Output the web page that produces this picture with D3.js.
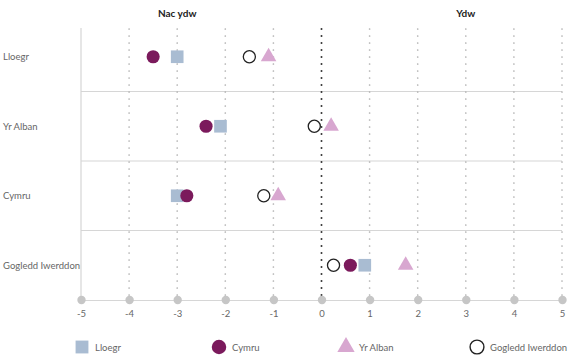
<!DOCTYPE html>
<html lang='cy'>
<head>
  <meta charset='utf-8'>
  <title>Dot plot</title>
  <script src='https://cdn.jsdelivr.net/npm/d3@7/dist/d3.min.js'></script>
  <style>
    body { margin: 0; background: #fff; }
    text { font-family: Lato, "Open Sans", sans-serif; }
  </style>
</head>
<body>
  <script>
    // data
    const rows = ["Lloegr", "Yr Alban", "Cymru", "Gogledd Iwerddon"];
    const seriesNames = ["Lloegr", "Cymru", "Yr Alban", "Gogledd Iwerddon"];
    const lloegrVals = [-3.0, -2.1, -3.0, 0.9];
    const cymruVals = [-3.5, -2.4, -2.8, 0.6];
    const albanVals = [-1.1, 0.2, -0.9, 1.75];
    const niVals = [-1.5, -0.15, -1.2, 0.25];
    const xTicks = [-5, -4, -3, -2, -1, 0, 1, 2, 3, 4, 5];
    const headers = [{ label: "Nac ydw", at: -3 }, { label: "Ydw", at: 3 }];

    const width = 574, height = 363;
    const margins = { left: 81, right: 12, top: 22, bottom: 63 };

    const svg = d3.select("body").append("svg")
      .attr("width", width).attr("height", height);

    const x = d3.scaleLinear().domain([-5, 5])
      .range([margins.left, width - margins.right]);
    const y = d3.scaleBand().domain(rows)
      .range([margins.top, height - margins.bottom]);
    const color = d3.scaleOrdinal().domain(seriesNames)
      .range(["#a9bcd2", "#7b1a5c", "#d8a7d0", "#222"]);
    const shape = d3.scaleOrdinal().domain(seriesNames)
      .range([d3.symbolSquare, d3.symbolCircle, d3.symbolTriangle, d3.symbolCircle]);
    const size = d3.scaleOrdinal().domain(seriesNames)
      .range([160, 135, 105, 115]);

    const yBottom = height - margins.bottom;

    // row separators
    svg.append("g").selectAll("line")
      .data(rows.slice(1)).join("line")
      .attr("x1", margins.left).attr("x2", width - margins.right)
      .attr("y1", d => y(d)).attr("y2", d => y(d))
      .attr("stroke", "#d6d6d6").attr("stroke-width", 1.2);

    // dotted vertical grid
    svg.append("g").selectAll("line")
      .data(xTicks.filter(d => d !== -5)).join("line")
      .attr("x1", d => x(d)).attr("x2", d => x(d))
      .attr("y1", margins.top + 7).attr("y2", yBottom)
      .attr("stroke", d => d === 0 ? "#333" : "#b0b0b0")
      .attr("stroke-width", d => d === 0 ? 2 : 1.7)
      .attr("stroke-dasharray", "0,7")
      .attr("stroke-linecap", "round");

    // left line
    svg.append("line")
      .attr("x1", margins.left).attr("x2", margins.left)
      .attr("y1", margins.top + 6).attr("y2", yBottom)
      .attr("stroke", "#d6d6d6").attr("stroke-width", 1.2);

    // x axis
    const axis = svg.append("g").attr("transform", `translate(0,${yBottom})`)
      .call(d3.axisBottom(x).tickValues(xTicks).tickFormat(d => String(d))
        .tickSize(0).tickPadding(10));
    axis.select(".domain").attr("stroke", "#d6d6d6").attr("stroke-width", 1.2);
    axis.selectAll(".tick text").attr("fill", "#666").attr("font-size", 9.5);
    axis.selectAll(".tick").append("circle").attr("r", 4.2).attr("fill", "#c6c6c6");

    // headers
    svg.append("g").selectAll("text")
      .data(headers).join("text")
      .attr("x", d => x(d.at)).attr("y", 17)
      .attr("text-anchor", "middle")
      .attr("font-size", 10).attr("font-weight", "bold").attr("fill", "#222")
      .text(d => d.label);

    // row labels
    svg.append("g").selectAll("text")
      .data(rows).join("text")
      .attr("x", 3).attr("y", d => y(d) + y.bandwidth() / 2)
      .attr("dominant-baseline", "central")
      .attr("font-size", 9.5).attr("fill", "#666")
      .text(d => d);

    // points
    const seriesVals = [lloegrVals, cymruVals, albanVals, niVals];
    const points = [];
    seriesNames.forEach((s, i) => rows.forEach((r, j) => points.push({ s, r, v: seriesVals[i][j] })));
    const symbol = d3.symbol();
    svg.append("g").selectAll("path")
      .data(points).join("path")
      .attr("transform", d => `translate(${x(d.v)},${y(d.r) + y.bandwidth() / 2})`)
      .attr("d", d => symbol.type(shape(d.s)).size(size(d.s))())
      .attr("fill", d => d.s === "Gogledd Iwerddon" ? "#fff" : color(d.s))
      .attr("stroke", d => d.s === "Gogledd Iwerddon" ? "#222" : "none")
      .attr("stroke-width", 1.3);

    // legend
    const legendX = [82, 219, 346, 477];
    const legend = svg.append("g").selectAll("g")
      .data(seriesNames).join("g")
      .attr("transform", (d, i) => `translate(${legendX[i]},347)`);
    legend.append("path")
      .attr("d", d => symbol.type(shape(d)).size(d === "Gogledd Iwerddon" ? 150 : d === "Yr Alban" ? 130 : 165)())
      .attr("fill", d => d === "Gogledd Iwerddon" ? "#fff" : color(d))
      .attr("stroke", d => d === "Gogledd Iwerddon" ? "#222" : "none")
      .attr("stroke-width", 1.4);
    legend.append("text")
      .attr("x", 13).attr("dominant-baseline", "central")
      .attr("font-size", 9.5).attr("fill", "#666")
      .text(d => d);
  </script>
</body>
</html>
